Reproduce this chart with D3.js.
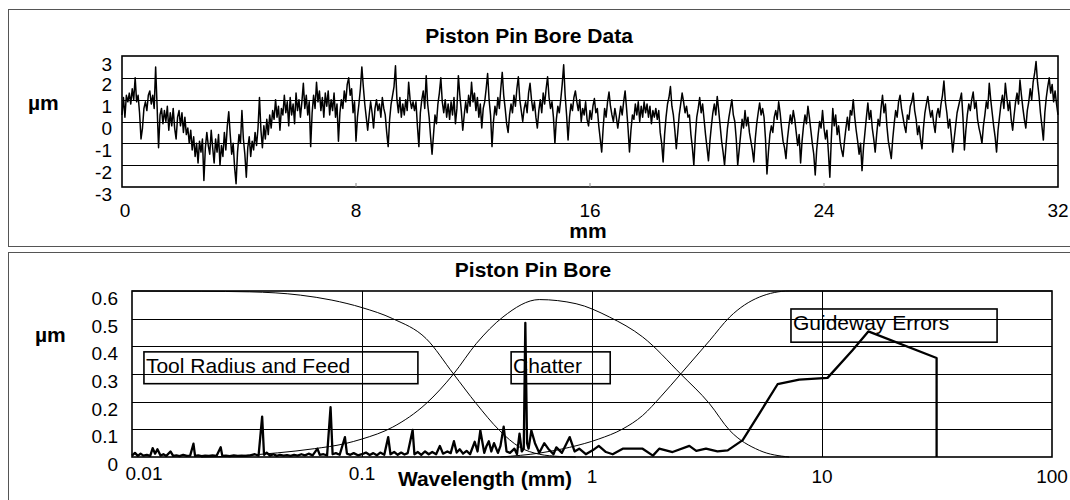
<!DOCTYPE html>
<html>
<head>
<meta charset="utf-8">
<script src="https://cdn.jsdelivr.net/npm/d3@7"></script>
<style>
  body { margin: 0; background: #fff; }
  text { font-family: "Liberation Sans", Arial, sans-serif; fill: #000; }
  .title, .alabel { font-weight: bold; font-size: 21px; }
  .tick { font-size: 19px; }
  .note { font-size: 21px; }
</style>
</head>
<body>
<svg id="chart" width="1070" height="500"></svg>
<script>
// profile of the bore, one value every 0.05 mm from 0 to 32 mm (µm)
let boreStep = 0.05
let boreValues = [
  0.3, 1.1, 0.2, 1.2, 0.9, 1.3, 0.8, 1.5, 1.0, 2.0, 0.9, 1.2, 0.4, -0.8, -0.3, 0.6, 0.9, 0.5, 1.2, 1.4,
  0.8, 1.2, 0.6, 2.5, 0.7, -1.2, 0.3, 0.6, -0.1, 0.5, 0.0, 0.7, -0.4, 0.4, -0.2, 0.6, -0.3, -0.8, 0.2, 0.5,
  -0.2, 0.4, -0.5, 0.2, -0.6, -0.3, -1.0, -0.4, -1.3, -0.7, -1.6, -1.0, -1.9, -0.9, -1.4, -0.8, -2.7, -1.2, -0.5, -1.1,
  -1.5, -0.4, -1.2, -1.9, -0.8, -1.4, -0.6, -2.0, -1.1, -1.6, -0.5, -1.3, -0.2, 0.45, -0.6, -1.5, -1.0, -2.1, -2.85, -1.4,
  -0.6, -1.0, 0.5, -0.8, -1.5, -2.55, -1.2, -0.7, -1.6, -0.9, -1.3, -0.5, -1.1, -0.3, 1.1, -0.4, -1.2, -0.2, -0.8, 0.1,
  -0.6, 0.3, -0.3, 0.5, 0.1, 1.0, 0.2, 0.7, -0.4, 0.6, 0.3, 1.2, 0.4, 0.9, -0.2, 1.1, 0.3, 0.8, -0.1, 1.3,
  0.5, 1.0, 0.2, 0.9, 1.75, 0.6, 1.2, 0.3, 0.9, -1.15, 0.4, 1.2, 0.6, 1.8, 0.9, 1.4, 0.5, 1.1, 0.2, 1.3,
  0.7, 1.4, 0.3, 1.0, 0.5, 1.3, 0.2, 0.8, -0.9, 0.4, 1.0, 0.6, 1.4, 0.9, 1.7, 2.0, 1.2, 1.5, 0.4, 0.9,
  -0.9, 0.2, 0.8, 1.5, 2.5, 1.6, 0.8, 0.2, -0.4, 0.3, 0.9, 0.4, -0.3, 0.6, 1.0, 0.5, 0.8, 0.2, 1.1, 0.6,
  0.3, -0.5, -1.15, 0.1, 0.8, 1.2, 1.6, 2.55, 1.0, 0.4, 1.1, 0.2, 0.8, 0.3, 1.0, 0.5, 1.8, 1.0, 0.6, 0.9,
  0.5, 0.9, -0.2, -1.15, 0.4, 1.0, 1.4, 0.6, 2.1, 0.8, 0.2, -0.7, -1.5, -0.6, 0.3, -0.1, 0.8, 1.3, 2.0, 0.9,
  0.4, 1.0, 0.2, 0.8, 0.1, 0.9, 0.3, 1.1, -0.1, 0.6, 2.1, 1.2, 0.5, -0.4, 0.3, 0.9, 0.4, 1.2, 0.7, 1.8,
  0.9, 1.3, 0.5, 1.1, 0.2, 0.8, -0.3, 0.6, 0.9, 1.5, 2.2, 1.0, 0.3, -1.15, 0.0, 0.7, 0.3, 1.1, 0.6, 1.5,
  2.25, 1.2, 0.6, -0.1, -0.5, 0.3, 0.8, 0.4, 1.2, 0.7, 1.5, 2.05, 1.0, 0.5, 0.0, 0.6, 0.9, 0.4, 1.3, 1.75,
  1.0, 0.5, 0.9, 0.2, -0.3, 0.5, 1.0, 0.4, 1.3, 0.8, 1.5, 2.05, 1.1, 0.6, 0.9, 0.2, -1.0, 0.1, 0.7, 0.4,
  1.0, 1.7, 2.6, 1.2, 0.3, -0.85, 0.2, 0.8, 0.5, 1.1, 1.4, 0.9, 0.5, 1.0, 0.0, 0.6, 0.3, 0.9, 0.1, -0.2,
  0.5, 0.1, 0.7, 1.05, 0.4, 0.6, -0.2, -0.8, -1.4, -0.3, 0.6, 0.2, 0.9, 1.35, 0.7, 0.3, 0.0, 0.6, 0.2, -0.3,
  0.2, 0.7, 0.3, 0.9, 1.4, 0.6, -0.3, -1.4, -0.4, 0.3, 0.1, 0.8, 0.3, 0.9, 0.0, 0.7, 0.2, 0.9, 0.4, 0.8,
  0.2, 0.7, -0.1, 0.5, 0.2, 0.6, 0.1, 0.5, -0.5, -1.0, -1.85, -0.6, 0.2, 0.8, 1.1, 1.6, 0.7, 0.3, -0.4, -1.25,
  -0.5, 0.3, 0.8, 1.3, 0.9, 0.4, 0.7, 0.2, 0.3, -0.6, -1.2, -2.0, -0.7, 0.2, 0.6, 1.1, 0.4, 0.8, 0.1, -0.6,
  -1.2, -1.8, -0.9, -0.2, 0.4, 0.8, 0.3, 1.15, 0.5, -0.2, -0.9, -1.4, -2.0, -1.1, -0.3, 0.2, 0.6, 1.0, 0.3, 0.0,
  -0.8, -2.0, -1.3, -0.6, 0.1, -0.3, 0.5, -0.2, 0.2, -0.5, -0.9, -1.3, -1.85, -0.8, -0.1, 0.4, 0.85, 0.3, 0.6, 0.2,
  -0.8, -2.4, -1.4, -0.6, -0.2, -0.5, 0.2, 0.5, 0.1, 0.9, 0.4, -0.3, -0.9, -1.2, -1.7, -0.8, -0.2, 0.3, -0.1, 0.5,
  0.1, -0.5, -1.1, -0.6, -1.9, -0.9, -0.2, 0.3, -0.1, 0.7, 0.2, -0.4, -1.0, -1.5, -2.45, -1.3, -0.6, 0.0, -0.3, 0.5,
  -0.3, -0.8, -0.4, -1.4, -2.55, -0.8, 0.6, -0.2, 0.3, -0.6, -0.2, -0.9, -1.3, -1.6, -0.9, -0.3, 0.2, -0.4, 0.5, 0.3,
  1.0, 0.2, -0.4, -0.9, -1.5, -1.0, -2.25, -1.2, -0.5, 0.2, 0.85, 0.1, 0.5, -0.3, -0.8, -1.4, -0.6, 0.1, -0.2, 0.6,
  1.2, 0.4, 0.8, -0.2, -0.9, -1.3, -1.7, -0.8, -0.1, 0.5, 0.2, 0.9, 1.2, 0.6, 0.2, -0.2, -0.5, 0.3, 0.1, 0.7,
  0.9, 1.3, 0.5, 0.1, -0.6, -0.2, -0.8, -1.25, -0.3, 0.4, 0.8, 1.15, 0.6, 0.2, 0.5, -0.1, -0.5, 0.3, 0.6, 0.2,
  0.8, 1.2, 1.85, 0.9, 0.4, -0.3, 0.1, -0.6, -1.4, -0.8, -0.2, 0.4, 0.7, 1.0, 1.3, 0.2, -1.3, -0.4, 0.3, 0.8,
  0.5, 1.0, 1.35, 0.6, 0.9, 0.1, -0.3, -0.6, -1.0, -0.2, 0.3, 0.9, 0.6, 1.75, 1.0, 0.4, -0.2, -0.7, -1.4, -0.4,
  0.2, 0.8, 1.2, 0.6, 1.75, 1.1, 0.5, 0.9, 0.1, -0.4, 0.3, 0.9, 1.3, 0.8, 1.9, 1.2, 0.6, 0.1, -0.3, 0.5,
  0.9, 1.5, 1.0, 1.8, 2.2, 2.75, 1.8, 1.2, 0.4, -0.2, -0.85, 0.4, 1.1, 1.6, 2.0, 1.3, 1.7, 0.9, 1.4, 0.8,
  0.3
]
let boreXTicks = [0, 8, 16, 24, 32]
let boreYTicks = [3, 2, 1, 0, -1, -2, -3]

// spectrum: wavelength (mm) and amplitude (µm)
let specWl = [
  0.0100, 0.0103, 0.0106, 0.0109, 0.0112, 0.0116, 0.0120, 0.0123, 0.0126, 0.0129,
  0.0133, 0.0137, 0.0141, 0.0147, 0.0151, 0.0156, 0.0161, 0.0167, 0.0173, 0.0179,
  0.0185, 0.0188, 0.0194, 0.0201, 0.0208, 0.0216, 0.0224, 0.0233, 0.0243, 0.0247,
  0.0256, 0.0266, 0.0277, 0.0288, 0.0300, 0.0313, 0.0327, 0.0342, 0.0355, 0.0368,
  0.0375, 0.0385, 0.0398, 0.0412, 0.0426, 0.0440, 0.0456, 0.0472, 0.0489, 0.0507,
  0.0525, 0.0545, 0.0565, 0.0586, 0.0610, 0.0640, 0.0655, 0.0680, 0.0705, 0.0730,
  0.0745, 0.0770, 0.0800, 0.0843, 0.0860, 0.0890, 0.0920, 0.0960, 0.100, 0.104,
  0.108, 0.112, 0.116, 0.120, 0.125, 0.130, 0.133, 0.138, 0.143, 0.148,
  0.153, 0.158, 0.166, 0.169, 0.175, 0.181, 0.188, 0.195, 0.202, 0.210,
  0.218, 0.225, 0.235, 0.243, 0.251, 0.258, 0.266, 0.275, 0.285, 0.295,
  0.309, 0.318, 0.327, 0.340, 0.348, 0.356, 0.365, 0.375, 0.390, 0.400,
  0.413, 0.425, 0.440, 0.460, 0.472, 0.484, 0.495, 0.505, 0.513, 0.522,
  0.530, 0.545, 0.565, 0.590, 0.620, 0.645, 0.680, 0.700, 0.740, 0.800,
  0.840, 0.880, 0.940, 1.01, 1.07, 1.15, 1.23, 1.36, 1.66, 1.84,
  1.96, 2.24, 2.65, 2.84, 3.13, 3.51, 3.89, 4.52, 5.34, 6.41,
  7.96, 10.57, 13.57, 15.9, 31.5, 31.5
]
let specAmp = [
  0.005, 0.015, 0.004, 0.012, 0.005, 0.008, 0.004, 0.032, 0.012, 0.028,
  0.005, 0.010, 0.004, 0.020, 0.004, 0.006, 0.003, 0.008, 0.004, 0.005,
  0.048, 0.004, 0.006, 0.003, 0.005, 0.004, 0.006, 0.004, 0.035, 0.004,
  0.005, 0.003, 0.006, 0.004, 0.005, 0.004, 0.006, 0.010, 0.005, 0.146,
  0.008, 0.016, 0.005, 0.010, 0.004, 0.008, 0.005, 0.007, 0.004, 0.008,
  0.005, 0.010, 0.006, 0.012, 0.006, 0.030, 0.008, 0.010, 0.006, 0.180,
  0.010, 0.014, 0.008, 0.072, 0.012, 0.008, 0.014, 0.006, 0.010, 0.016,
  0.007, 0.014, 0.006, 0.016, 0.008, 0.072, 0.010, 0.018, 0.008, 0.016,
  0.009, 0.014, 0.098, 0.010, 0.018, 0.008, 0.020, 0.010, 0.018, 0.010,
  0.040, 0.012, 0.020, 0.014, 0.057, 0.016, 0.028, 0.012, 0.022, 0.010,
  0.055, 0.020, 0.096, 0.015, 0.040, 0.057, 0.020, 0.050, 0.015, 0.040,
  0.110, 0.020, 0.015, 0.030, 0.010, 0.084, 0.020, 0.030, 0.485, 0.050,
  0.030, 0.096, 0.050, 0.015, 0.050, 0.030, 0.010, 0.035, 0.015, 0.072,
  0.020, 0.030, 0.010, 0.025, 0.040, 0.018, 0.010, 0.030, 0.030, 0.005,
  0.030, 0.018, 0.040, 0.022, 0.030, 0.020, 0.024, 0.061, 0.157, 0.263,
  0.280, 0.286, 0.386, 0.454, 0.358, 0.0
]

// filter transmission curves
let lowPassWl = [0.01, 0.02, 0.0325, 0.054, 0.074, 0.1, 0.136, 0.19, 0.25, 0.314, 0.396, 0.484, 0.59, 0.72, 0.85]
let lowPassAmp = [0.6, 0.599, 0.597, 0.585, 0.567, 0.54, 0.50, 0.428, 0.30, 0.193, 0.096, 0.036, 0.01, 0.002, 0.0]
let bandPassWl = [0.02, 0.03, 0.043, 0.062, 0.084, 0.1, 0.136, 0.19, 0.25, 0.314, 0.41, 0.59, 0.853, 1.19, 1.66, 2.43, 3.24, 3.97, 5.34, 7.2]
let bandPassAmp = [0.0, 0.005, 0.015, 0.03, 0.048, 0.065, 0.108, 0.193, 0.30, 0.41, 0.506, 0.569, 0.554, 0.506, 0.434, 0.30, 0.193, 0.096, 0.024, 0.0]
let highPassWl = [0.4, 0.6, 0.8, 1.07, 1.35, 1.66, 2.0, 2.43, 3.24, 3.97, 5.34, 7.2, 100]
let highPassAmp = [0.0, 0.015, 0.035, 0.065, 0.1, 0.15, 0.22, 0.30, 0.42, 0.506, 0.578, 0.6, 0.6]

let specXTicks = [0.01, 0.1, 1, 10, 100]
let specYTicks = [0.6, 0.5, 0.4, 0.3, 0.2, 0.1, 0]

// region labels: text, left/right wavelength, top/bottom amplitude
let notes = [
  {text: "Tool Radius and Feed", x0: 0.01127, x1: 0.175, y0: 0.38, y1: 0.265},
  {text: "Chatter", x0: 0.445, x1: 1.2, y0: 0.38, y1: 0.265},
  {text: "Guideway Errors", x0: 7.33, x1: 57.7, y0: 0.535, y1: 0.415}
]

let svg = d3.select("#chart")

// ---------- top panel ----------
svg.append("rect")
  .attr("x", 8.5).attr("y", 9.5)
  .attr("width", 1075).attr("height", 237)
  .attr("fill", "none").attr("stroke", "#555")

let m1 = {top: 56, bottom: 187, left: 122, right: 1058}
let x1 = d3.scaleLinear().domain([0, 32]).range([m1.left, m1.right])
let y1 = d3.scaleLinear().domain([-3, 3]).range([m1.bottom, m1.top])

svg.append("g").selectAll("line")
  .data(boreYTicks.filter(d => d > -3 && d < 3))
  .enter().append("line")
  .attr("x1", m1.left).attr("x2", m1.right)
  .attr("y1", d => Math.round(y1(d)) + 0.5).attr("y2", d => Math.round(y1(d)) + 0.5)
  .attr("stroke", "#000").attr("stroke-width", 1)

let boreLine = d3.line()
  .x((d, i) => x1(i * boreStep))
  .y(d => y1(d))
svg.append("path")
  .datum(boreValues)
  .attr("d", boreLine)
  .attr("fill", "none").attr("stroke", "#000").attr("stroke-width", 1.5)
  .attr("stroke-linejoin", "round")

svg.append("rect")
  .attr("x", m1.left).attr("y", m1.top)
  .attr("width", m1.right - m1.left).attr("height", m1.bottom - m1.top)
  .attr("fill", "none").attr("stroke", "#000").attr("stroke-width", 1.6)

// small inward ticks on the x axis
svg.append("g").selectAll("line")
  .data(boreXTicks.slice(1, -1))
  .enter().append("line")
  .attr("x1", d => x1(d)).attr("x2", d => x1(d))
  .attr("y1", m1.bottom).attr("y2", m1.bottom - 4)
  .attr("stroke", "#888")

svg.append("g").selectAll("text")
  .data(boreYTicks)
  .enter().append("text")
  .attr("class", "tick")
  .attr("text-anchor", "end")
  .attr("x", 112)
  .attr("y", d => Math.max(y1(d) + 13.5, m1.top + 15))
  .text(d => d)

svg.append("g").selectAll("text")
  .data(boreXTicks)
  .enter().append("text")
  .attr("class", "tick")
  .attr("text-anchor", "middle")
  .attr("x", d => x1(d) + (d === 0 ? 3 : 0))
  .attr("y", 216.5)
  .text(d => d)

svg.append("text").attr("class", "title")
  .attr("text-anchor", "middle").attr("x", 529).attr("y", 43)
  .text("Piston Pin Bore Data")
svg.append("text").attr("class", "alabel")
  .attr("text-anchor", "middle").attr("x", 588).attr("y", 238)
  .text("mm")
svg.append("text").attr("class", "alabel")
  .attr("x", 28).attr("y", 110)
  .text("µm")

// ---------- bottom panel ----------
svg.append("rect")
  .attr("x", 8.5).attr("y", 252.5)
  .attr("width", 1075).attr("height", 260)
  .attr("fill", "none").attr("stroke", "#555")

let m2 = {top: 291, bottom: 457, left: 132, right: 1052}
let x2 = d3.scaleLog().domain([0.01, 100]).range([m2.left, m2.right])
let y2 = d3.scaleLinear().domain([0, 0.6]).range([m2.bottom, m2.top])

svg.append("g").selectAll("line")
  .data(specYTicks.filter(d => d > 0 && d < 0.6))
  .enter().append("line")
  .attr("x1", m2.left).attr("x2", m2.right)
  .attr("y1", d => Math.round(y2(d)) + 0.5).attr("y2", d => Math.round(y2(d)) + 0.5)
  .attr("stroke", "#000")

svg.append("g").selectAll("line")
  .data(specXTicks.slice(1, -1))
  .enter().append("line")
  .attr("x1", d => Math.round(x2(d)) + 0.5).attr("x2", d => Math.round(x2(d)) + 0.5)
  .attr("y1", m2.top).attr("y2", m2.bottom)
  .attr("stroke", "#000")

let curve = (wl, amp) => d3.line()
  .x(i => x2(wl[i]))
  .y(i => y2(amp[i]))
  .curve(d3.curveMonotoneX)(d3.range(wl.length))

;[[lowPassWl, lowPassAmp], [bandPassWl, bandPassAmp], [highPassWl, highPassAmp]].forEach(c => {
  svg.append("path")
    .attr("d", curve(c[0], c[1]))
    .attr("fill", "none").attr("stroke", "#000").attr("stroke-width", 1)
})

let specLine = d3.line()
  .x(i => x2(specWl[i]))
  .y(i => y2(specAmp[i]))
svg.append("path")
  .attr("d", specLine(d3.range(specWl.length)))
  .attr("fill", "none").attr("stroke", "#000").attr("stroke-width", 2.3)
  .attr("stroke-linejoin", "round")

svg.append("rect")
  .attr("x", m2.left).attr("y", m2.top)
  .attr("width", m2.right - m2.left).attr("height", m2.bottom - m2.top)
  .attr("fill", "none").attr("stroke", "#000").attr("stroke-width", 1.6)

let noteG = svg.append("g")
notes.forEach(n => {
  noteG.append("rect")
    .attr("x", x2(n.x0)).attr("y", y2(n.y0))
    .attr("width", x2(n.x1) - x2(n.x0)).attr("height", y2(n.y1) - y2(n.y0))
    .attr("fill", "none").attr("stroke", "#000").attr("stroke-width", 1.6)
  noteG.append("text")
    .attr("class", "note")
    .attr("x", x2(n.x0) + 2)
    .attr("y", y2(n.y0) + 21)
    .text(n.text)
})

svg.append("g").selectAll("text")
  .data(specYTicks)
  .enter().append("text")
  .attr("class", "tick")
  .attr("text-anchor", "end")
  .attr("x", 118)
  .attr("y", d => y2(d) + 14)
  .text(d => d)

svg.append("g").selectAll("text")
  .data(specXTicks)
  .enter().append("text")
  .attr("class", "tick")
  .attr("text-anchor", "middle")
  .attr("x", d => Math.max(x2(d), m2.left + 12))
  .attr("y", d => d < 1 ? 480 : 483)
  .text(d => d)

svg.append("text").attr("class", "title")
  .attr("text-anchor", "middle").attr("x", 533).attr("y", 277)
  .text("Piston Pin Bore")
svg.append("text").attr("class", "alabel")
  .attr("text-anchor", "middle").attr("x", 485).attr("y", 486)
  .text("Wavelength (mm)")
svg.append("text").attr("class", "alabel")
  .attr("x", 35).attr("y", 342)
  .text("µm")
</script>
</body>
</html>
